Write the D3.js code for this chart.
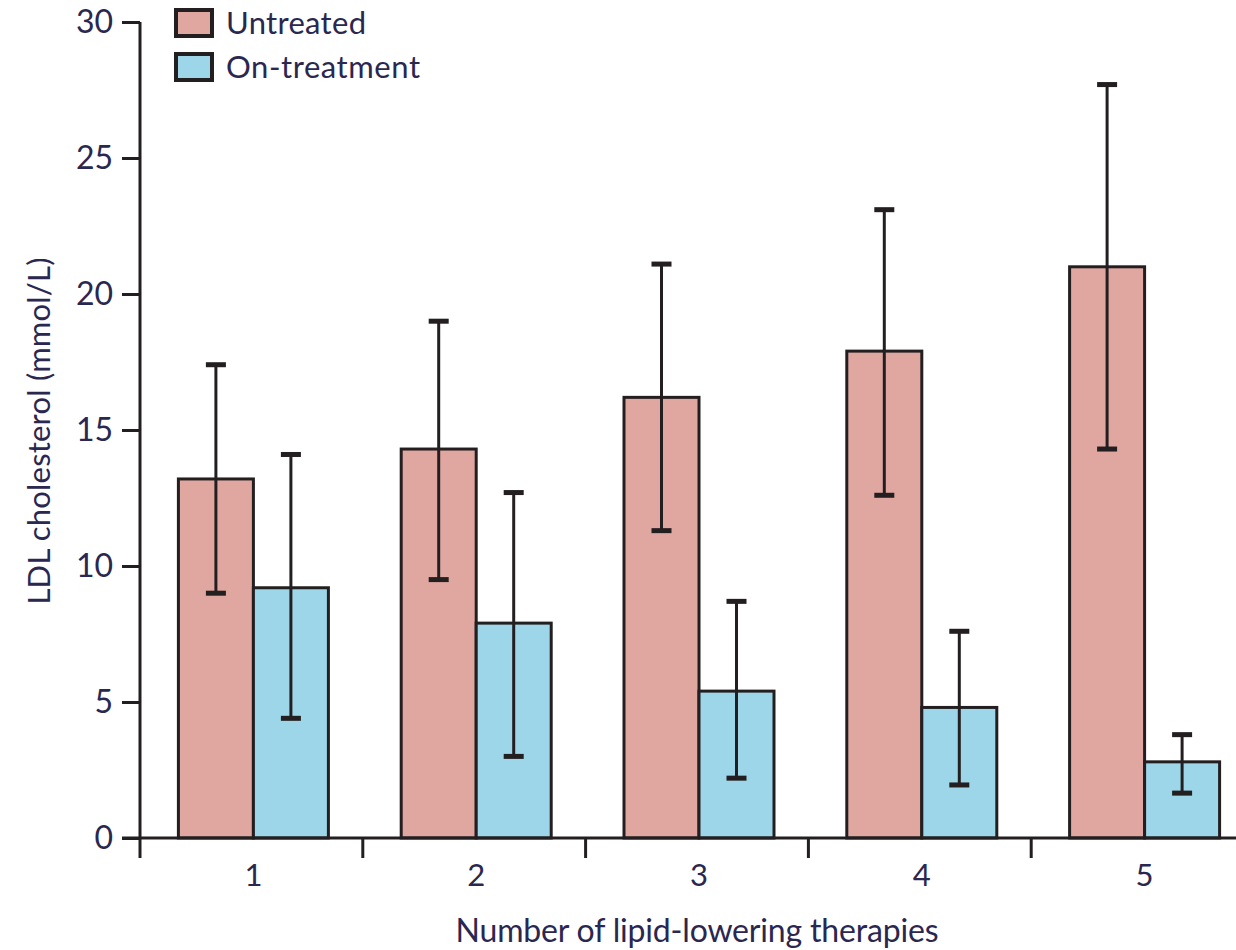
<!DOCTYPE html>
<html>
<head>
<meta charset="utf-8">
<script src="https://cdn.jsdelivr.net/npm/d3@7"></script>
<style>
  body { margin: 0; background: #fff; }
  text { font-family: "Liberation Sans Narrow", "Lato", sans-serif; fill: #2a2750; }
</style>
</head>
<body>
<svg id="chart" width="1236" height="950"></svg>
<script>
// data
var categories = ["1", "2", "3", "4", "5"];
var untreated = [13.2, 14.3, 16.2, 17.9, 21.0];
var untreatedLow = [9.0, 9.5, 11.3, 12.6, 14.3];
var untreatedHigh = [17.4, 19.0, 21.1, 23.1, 27.7];
var onTreatment = [9.2, 7.9, 5.4, 4.8, 2.8];
var onTreatmentLow = [4.4, 3.0, 2.2, 1.95, 1.65];
var onTreatmentHigh = [14.1, 12.7, 8.7, 7.6, 3.8];
var yTicks = [0, 5, 10, 15, 20, 25, 30];

var ink = "#231f20";
var svg = d3.select("#chart");

var x = d3.scaleBand().domain(categories).range([140, 1254]).padding(0);
var y = d3.scaleLinear().domain([0, 30]).range([838, 22]);
var barW = 75;

var series = [
    { name: "Untreated", color: "#e0a7a1", vals: untreated, lo: untreatedLow, hi: untreatedHigh, off: -barW + 2 },
    { name: "On-treatment", color: "#9dd6e8", vals: onTreatment, lo: onTreatmentLow, hi: onTreatmentHigh, off: 2 }
];

// bars
series.forEach(function (s) {
    var g = svg.append("g");
    g.selectAll("rect")
        .data(categories)
        .enter()
        .append("rect")
        .attr("x", function (d) { return x(d) + x.bandwidth() / 2 + s.off; })
        .attr("y", function (d, i) { return y(s.vals[i]); })
        .attr("width", barW)
        .attr("height", function (d, i) { return y(0) - y(s.vals[i]); })
        .attr("fill", s.color)
        .attr("stroke", ink)
        .attr("stroke-width", 3);
});

// error bars
series.forEach(function (s) {
    var g = svg.append("g");
    var cx = function (d) { return x(d) + x.bandwidth() / 2 + s.off + barW / 2; };
    g.selectAll("line.err")
        .data(categories)
        .enter()
        .append("line")
        .attr("x1", cx).attr("x2", cx)
        .attr("y1", function (d, i) { return y(s.lo[i]); })
        .attr("y2", function (d, i) { return y(s.hi[i]); })
        .attr("stroke", ink)
        .attr("stroke-width", 3);
    ["lo", "hi"].forEach(function (k) {
        g.selectAll("rect." + k)
            .data(categories)
            .enter()
            .append("rect")
            .attr("x", function (d) { return cx(d) - 10; })
            .attr("y", function (d, i) { return y(s[k][i]) - 2.5; })
            .attr("width", 20)
            .attr("height", 5)
            .attr("fill", ink);
    });
});

// y axis
var yAxis = d3.axisLeft(y).tickValues(yTicks).tickSize(18).tickPadding(9);
var yg = svg.append("g").attr("transform", "translate(140,0)").call(yAxis);
yg.select(".domain").remove();
yg.append("line").attr("x1", 0).attr("x2", 0).attr("y1", 22).attr("y2", 858)
    .attr("stroke", ink).attr("stroke-width", 3);
yg.selectAll(".tick line").attr("stroke", ink).attr("stroke-width", 3);
yg.selectAll(".tick text")
    .attr("font-size", 32)
    .attr("font-family", "Liberation Sans Narrow, Lato, sans-serif")
    .attr("fill", "#2a2750");

// x axis
var xg = svg.append("g").attr("transform", "translate(0,838)");
xg.append("line").attr("x1", 122).attr("x2", 1236).attr("y1", 0).attr("y2", 0)
    .attr("stroke", ink).attr("stroke-width", 3);
xg.selectAll("line.tk")
    .data(categories.slice(1))
    .enter()
    .append("line")
    .attr("x1", function (d) { return x(d); })
    .attr("x2", function (d) { return x(d); })
    .attr("y1", 0).attr("y2", 20)
    .attr("stroke", ink).attr("stroke-width", 3);
xg.selectAll("text")
    .data(categories)
    .enter()
    .append("text")
    .attr("x", function (d) { return x(d) + x.bandwidth() / 2 + 2; })
    .attr("y", 48)
    .attr("text-anchor", "middle")
    .attr("font-size", 31)
    .text(function (d) { return d; });

// axis titles
svg.append("text")
    .attr("x", 697).attr("y", 942)
    .attr("text-anchor", "middle")
    .attr("font-size", 32)
    .attr("textLength", 483)
    .text("Number of lipid-lowering therapies");

svg.append("text")
    .attr("transform", "translate(50,431) rotate(-90)")
    .attr("text-anchor", "middle")
    .attr("font-size", 31)
    .attr("textLength", 347)
    .text("LDL cholesterol (mmol/L)");

// legend
var leg = svg.append("g");
series.forEach(function (s, i) {
    leg.append("rect")
        .attr("x", 176).attr("y", 10 + i * 44)
        .attr("width", 36).attr("height", 26)
        .attr("fill", s.color)
        .attr("stroke", ink)
        .attr("stroke-width", 4);
    leg.append("text")
        .attr("x", 226).attr("y", 34 + i * 44)
        .attr("font-size", 31)
        .attr("textLength", i === 0 ? 140 : 194)
        .text(s.name);
});
</script>
</body>
</html>
